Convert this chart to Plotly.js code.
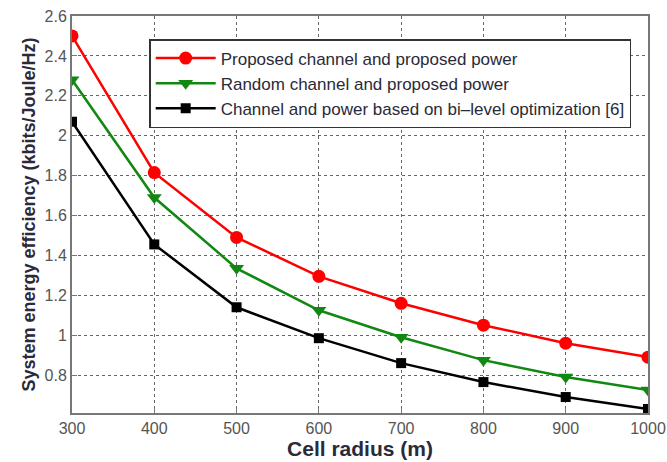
<!DOCTYPE html>
<html>
<head>
<meta charset="utf-8">
<script src="https://cdn.plot.ly/plotly-3.0.1.min.js"></script>
<style>html,body{margin:0;padding:0;background:#fff;}#chart{width:667px;height:462px;}</style>
</head>
<body>
<div id="chart"></div>
<script>
const cellRadius = [300, 400, 500, 600, 700, 800, 900, 1000];
const proposedChannelProposedPower = [2.50, 1.815, 1.49, 1.295, 1.16, 1.05, 0.96, 0.89];
const randomChannelProposedPower = [2.28, 1.69, 1.335, 1.125, 0.99, 0.875, 0.79, 0.725];
const biLevelOptimization = [2.07, 1.455, 1.14, 0.985, 0.86, 0.765, 0.69, 0.63];
const seriesNames = [
  "Proposed channel and proposed power",
  "Random channel and proposed power",
  "Channel and power based on bi\u2013level optimization [6]"
];
const yTicks = [0.8, 1, 1.2, 1.4, 1.6, 1.8, 2, 2.2, 2.4, 2.6];
const yTickLabels = ["0.8", "1", "1.2", "1.4", "1.6", "1.8", "2", "2.2", "2.4", "2.6"];

const traces = [
  {x: cellRadius, y: proposedChannelProposedPower, name: seriesNames[0], mode: "lines+markers",
   line: {color: "#ff0000", width: 2.5}, marker: {symbol: "circle", size: 13, color: "#ff0000"}},
  {x: cellRadius, y: randomChannelProposedPower, name: seriesNames[1], mode: "lines+markers",
   line: {color: "#118811", width: 2.5}, marker: {symbol: "triangle-down", size: 13, color: "#118811"}},
  {x: cellRadius, y: biLevelOptimization, name: seriesNames[2], mode: "lines+markers",
   line: {color: "#000000", width: 2.5}, marker: {symbol: "square", size: 10, color: "#000000"}}
];

const layout = {
  width: 667, height: 462,
  margin: {l: 72, r: 19, t: 16, b: 49},
  paper_bgcolor: "#ffffff", plot_bgcolor: "#ffffff",
  font: {family: "Liberation Sans, Arial, sans-serif", color: "#333"},
  showlegend: true,
  legend: {x: 0.134, y: 0.942, xanchor: "left", yanchor: "top",
           bordercolor: "#333", borderwidth: 1.5, bgcolor: "#ffffff",
           font: {size: 17, color: "#2a2a3a"}, itemwidth: 60},
  xaxis: {
    range: [300, 1000], tickvals: cellRadius, ticktext: cellRadius.map(String),
    showgrid: true, gridcolor: "#666", griddash: "dot", gridwidth: 1,
    showline: true, linecolor: "#777", linewidth: 2, mirror: true,
    ticks: "inside", ticklen: 5, tickcolor: "#777",
    tickfont: {size: 16, color: "#555"}, zeroline: false,
    title: {text: "<b>Cell radius (m)</b>", font: {size: 21, color: "#2a2a3a"}, standoff: 2}
  },
  yaxis: {
    range: [0.61, 2.6], tickvals: yTicks, ticktext: yTickLabels,
    showgrid: true, gridcolor: "#666", griddash: "dot", gridwidth: 1,
    showline: true, linecolor: "#777", linewidth: 2, mirror: true,
    ticks: "inside", ticklen: 5, tickcolor: "#777",
    tickfont: {size: 16, color: "#555"}, zeroline: false,
    title: {text: "<b>System energy efficiency (kbits/Joule/Hz)</b>",
            font: {size: 18, family: "Liberation Sans Narrow, Arial Narrow, sans-serif", color: "#2a2a3a"}, standoff: 4}
  }
};

Plotly.newPlot("chart", traces, layout, {displayModeBar: false, staticPlot: true});
</script>
</body>
</html>
